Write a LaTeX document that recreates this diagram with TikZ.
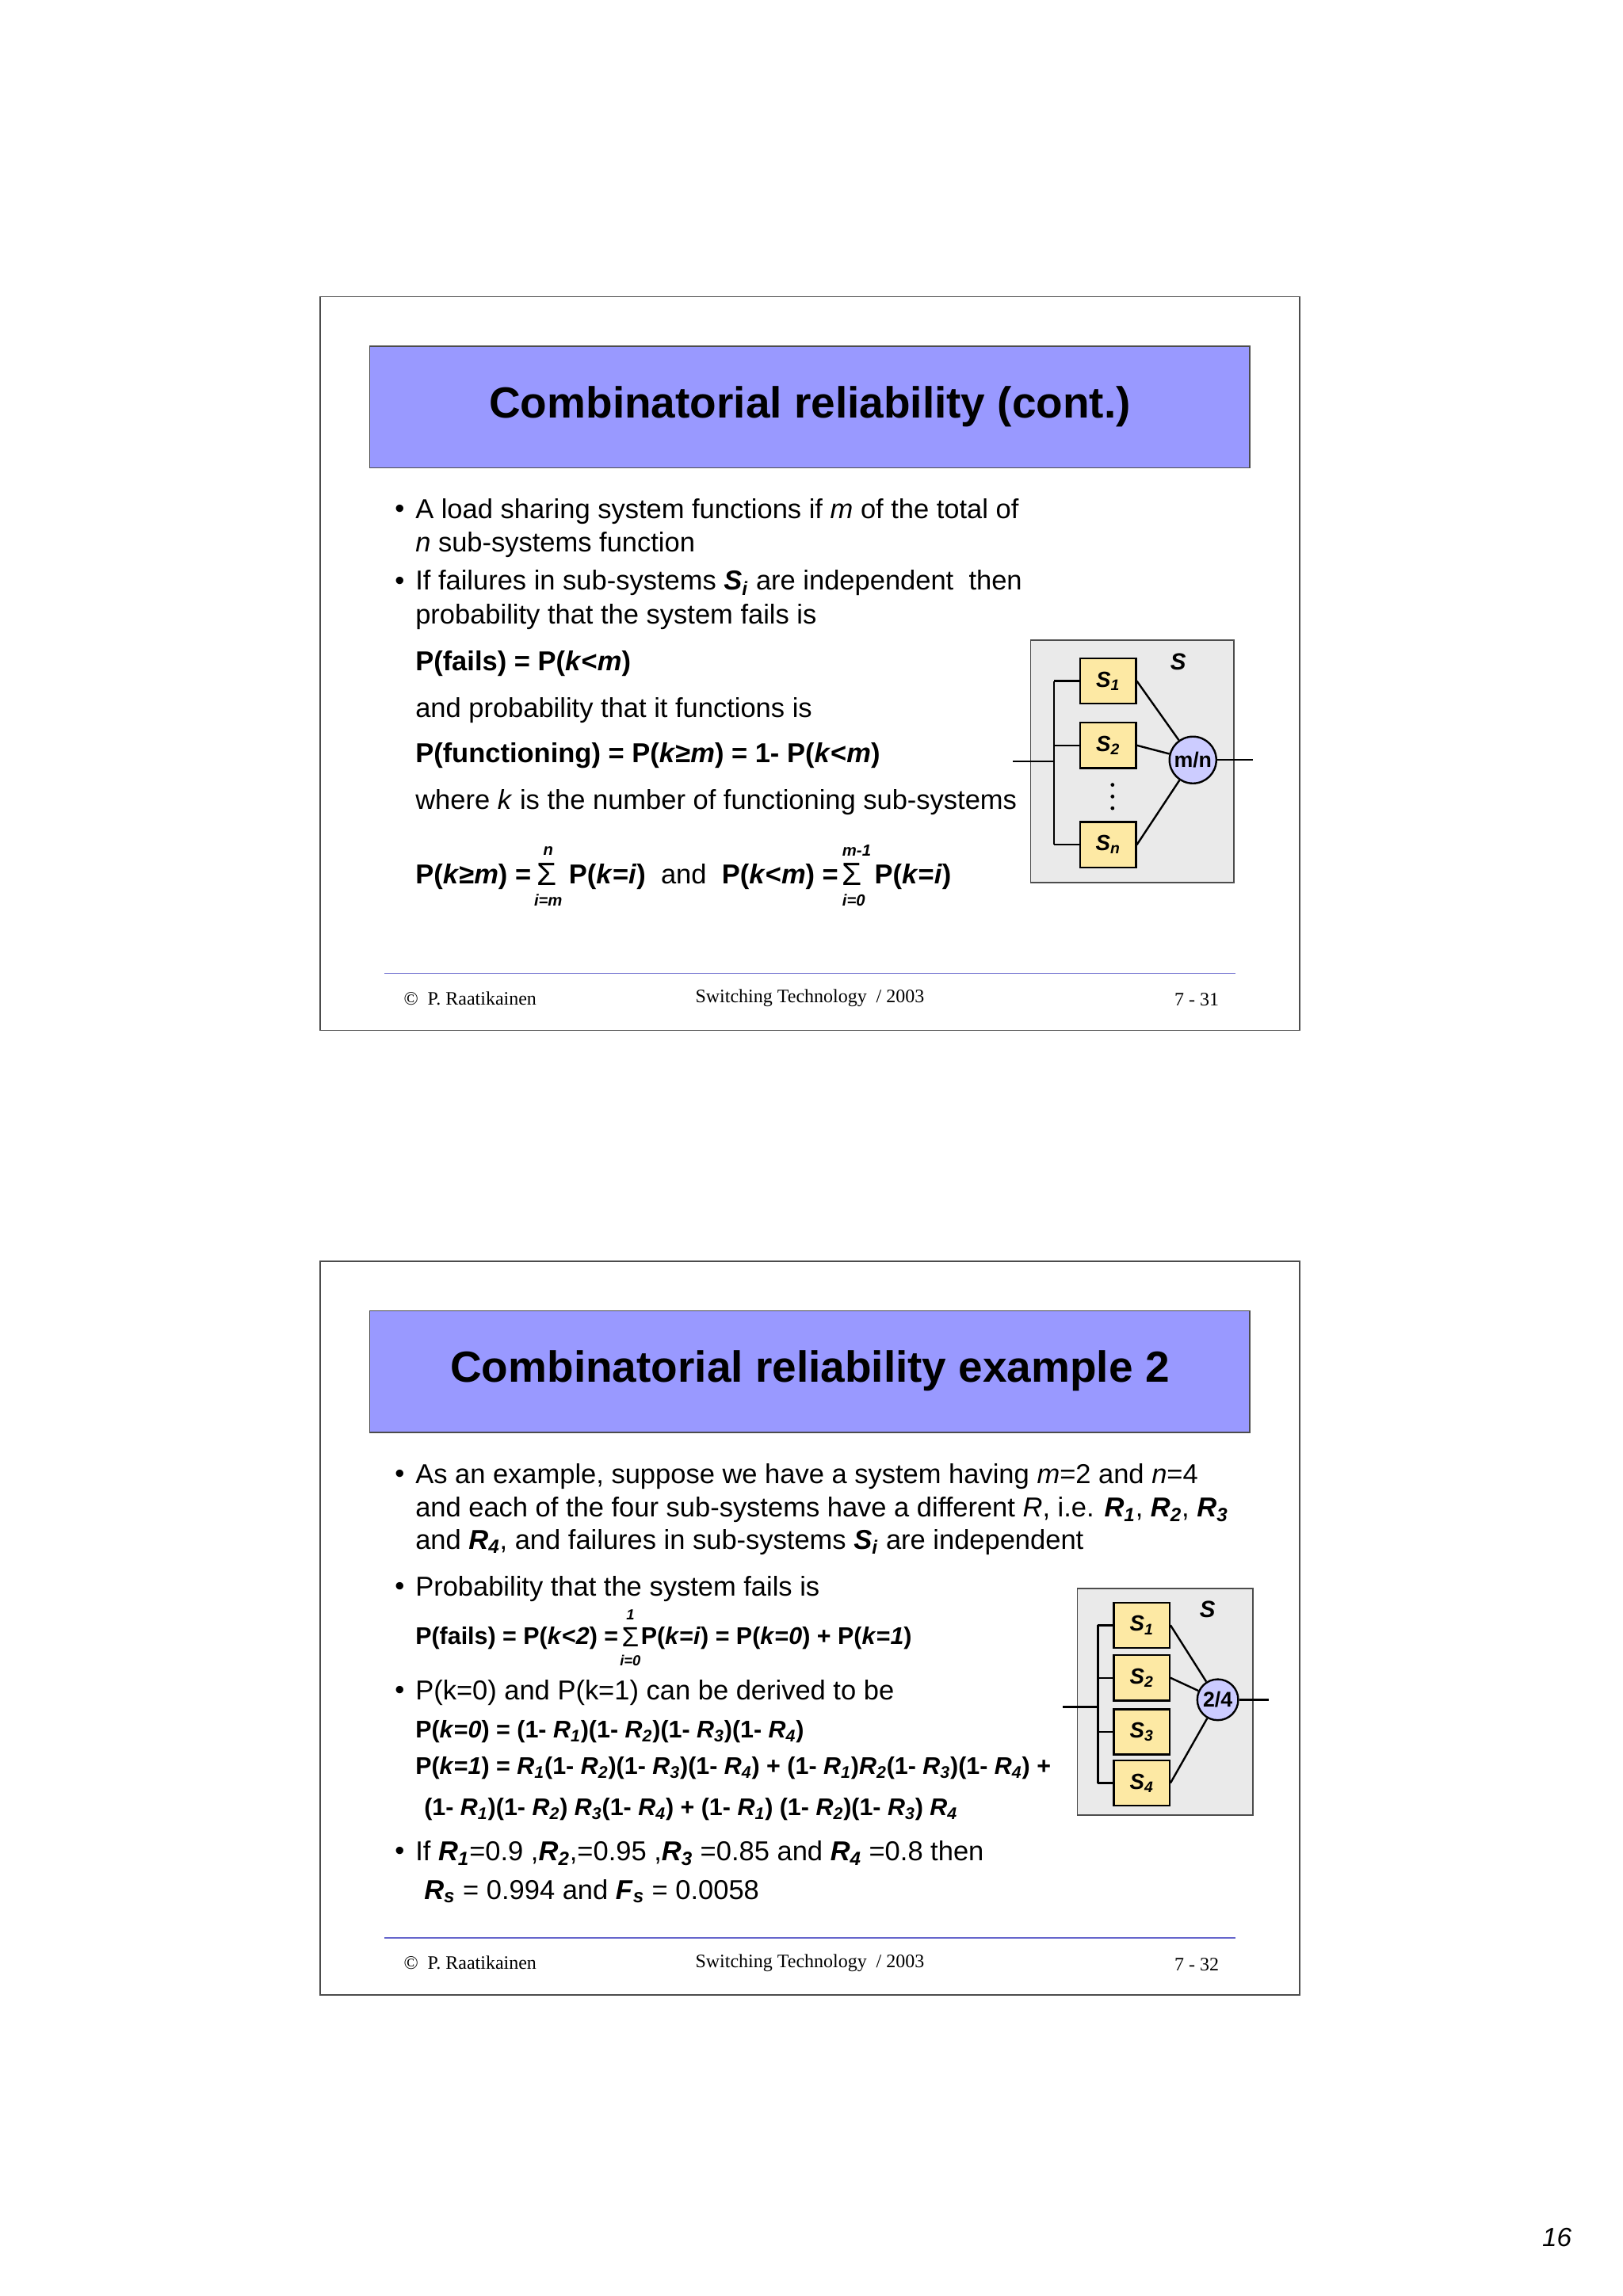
\documentclass[tikz,border=0pt]{standalone}
\usepackage{fontspec}
\setmainfont{Liberation Sans}
\newfontfamily\serifft{Liberation Serif}
\definecolor{titlebl}{HTML}{9999FF}
\definecolor{boxgray}{HTML}{EAEAEA}
\definecolor{subyel}{HTML}{FDE9A4}
\definecolor{circbl}{HTML}{CCCCFF}
\definecolor{footbl}{HTML}{6666CC}
\newcommand\bi[1]{\textbf{\textit{#1}}}
\newcommand\sbi[2]{\textbf{\textit{#1}\textsubscript{\textit{#2}}}}
\tikzset{
 body/.style={anchor=west,inner sep=0,font=\fontsize{18.7}{22}\selectfont,align=left},
 formula/.style={anchor=west,inner sep=0,font=\fontsize{16.5}{19}\selectfont},
 small/.style={inner sep=0,font=\fontsize{11}{12}\selectfont\bfseries\itshape},
 tiny/.style={inner sep=0,font=\fontsize{10}{10}\selectfont\bfseries\itshape},
 titlebox/.style={draw=black!70,fill=titlebl,line width=0.8pt},
 frm/.style={draw=black!70,line width=0.8pt},
 ttl/.style={font=\fontsize{29.8}{34}\selectfont\bfseries},
 foot/.style={font=\fontsize{13}{15}\selectfont\serifft,inner sep=0},
 sub/.style={draw=black,line width=1.3pt,fill=subyel,minimum width=38pt,minimum height=31pt,inner sep=0,font=\fontsize{15}{16}\selectfont\bfseries\itshape},
 circ/.style={draw=black,line width=1.3pt,fill=circbl,circle,inner sep=0,font=\fontsize{14.5}{15}\selectfont\bfseries},
 wire/.style={line width=1.3pt}
}
\begin{document}
\begin{tikzpicture}[x=1pt,y=-1pt]
\useasboundingbox[fill=white] (0,0) rectangle (1110,1571);
% ---------- slide 1
\draw[frm] (219,203) rectangle (889,705);
\draw[titlebox] (253,237) rectangle (855,320);
\node[ttl] (t1) at (554,278) {Combinatorial reliability (cont.)};
\node[body] (b1) at (270,350) {•};
\node[body] (l1) at (284,350) {A load sharing system functions if \textit{m} of the total of};
\node[body] (l2) at (284,373) {\textit{n} sub-systems function};
\node[body] (b2) at (270,399) {•};
\node[body] (l3) at (284,399) {If failures in sub-systems \sbi{S}{i} are independent \ then};
\node[body] (l4) at (284,422) {probability that the system fails is};
\node[body] (l5) at (284,454) {\textbf{P(fails) = P(\textit{k}<\textit{m})}};
\node[body] (l6) at (284,486) {and probability that it functions is};
\node[body] (l7) at (284,517) {\textbf{P(functioning) = P(\textit{k}≥\textit{m}) = 1- P(\textit{k}<\textit{m})}};
\node[body] (l8) at (284,549) {where \textit{k} is the number of functioning sub-systems};
\node[body] (f1) at (284,600) {\textbf{P(\textit{k}≥\textit{m}) =}};
\node[body,font=\fontsize{22}{22}\selectfont] (sg1) at (367,598) {Σ};
\node[small] at (375,582) {n};
\node[small] at (375,616) {i=m};
\node[body] (f2) at (389,600) {\textbf{P(\textit{k}=\textit{i})} \ and \ \textbf{P(\textit{k}<\textit{m}) =}};
\node[body,font=\fontsize{22}{22}\selectfont] (sg2) at (576,598) {Σ};
\node[small] at (586,582) {m-1};
\node[small] at (584,616) {i=0};
\node[body] (f3) at (598,600) {\textbf{P(\textit{k}=\textit{i})}};
\draw[footbl,line width=0.8pt] (263,666) -- (845,666);
\node[foot,anchor=west] at (276,683) {©\ \ P. Raatikainen};
\node[foot] at (554,683) {Switching Technology \ / 2003};
\node[foot,anchor=east] at (834,684) {7 - 31};
% diagram 1
\draw[draw=black!70,fill=boxgray,line width=0.8pt] (705,438) rectangle (844,604);
\node[small,font=\fontsize{16}{16}\selectfont\bfseries\itshape] at (806,453) {S};
\node[sub] (a1) at (758,466) {S\textsubscript{1}};
\node[sub] (a2) at (758,510) {S\textsubscript{2}};
\node[sub] (an) at (758,578) {S\textsubscript{\textit{n}}};
\node[circ,minimum size=32pt] (mn) at (816,520) {m/n};
\coordinate (bt) at (721,466); \coordinate (bb) at (721,578);
\coordinate (in1) at (693,521); \coordinate (bm) at (721,521);
\coordinate (out1) at (857,520);
\draw[wire] (bt) -- (bb);
\draw[wire] (bt) -- (a1.west); \draw[wire] (721,510) -- (a2.west); \draw[wire] (bb) -- (an.west);
\draw[wire] (in1) -- (bm);
\draw[wire] (a1.east) -- (mn); \draw[wire] (a2.east) -- (mn); \draw[wire] (an.east) -- (mn);
\draw[wire] (mn.east) -- (out1);
\foreach \yy in {537,545,553} \fill (761,\yy) circle (1.3);
% ---------- slide 2
\draw[frm] (219,863) rectangle (889,1365);
\draw[titlebox] (253,897) rectangle (855,980);
\node[ttl] (t2) at (554,938) {Combinatorial reliability example 2};
\node[body] at (270,1010) {•};
\node[body] (m1) at (284,1010) {As an example, suppose we have a system having \textit{m}=2 and \textit{n}=4};
\node[body] (m2) at (284,1033) {and each of the four sub-systems have a different \textit{R}, i.e. \sbi{R}{1}, \sbi{R}{2}, \sbi{R}{3}};
\node[body] (m3) at (284,1055) {and \sbi{R}{4}, and failures in sub-systems \sbi{S}{i} are independent};
\node[body] at (270,1087) {•};
\node[body] (m4) at (284,1087) {Probability that the system fails is};
\node[formula] (m5) at (284,1121) {\textbf{P(fails) = P(\textit{k}<\textit{2}) =}};
\node[formula,font=\fontsize{19}{19}\selectfont] (sg3) at ([xshift=2pt,yshift=1pt]m5.east) {Σ};
\node[tiny] at ([yshift=15pt]sg3.center) {1};
\node[tiny] at ([yshift=-16pt]sg3.center) {i=0};
\node[formula] (m6) at ([xshift=1pt,yshift=-1pt]sg3.east) {\textbf{P(\textit{k}=\textit{i}) = P(\textit{k}=\textit{0}) + P(\textit{k}=\textit{1})}};
\node[body] at (270,1158) {•};
\node[body] (m7) at (284,1158) {P(k=0) and P(k=1) can be derived to be};
\node[formula] (m8) at (284,1185) {\textbf{P(\textit{k}=\textit{0}) = (1- \textit{R}\textsubscript{\textit{1}})(1- \textit{R}\textsubscript{\textit{2}})(1- \textit{R}\textsubscript{\textit{3}})(1- \textit{R}\textsubscript{\textit{4}})}};
\node[formula] (m9) at (284,1210) {\textbf{P(\textit{k}=\textit{1}) = \textit{R}\textsubscript{\textit{1}}(1- \textit{R}\textsubscript{\textit{2}})(1- \textit{R}\textsubscript{\textit{3}})(1- \textit{R}\textsubscript{\textit{4}}) + (1- \textit{R}\textsubscript{\textit{1}})\textit{R}\textsubscript{\textit{2}}(1- \textit{R}\textsubscript{\textit{3}})(1- \textit{R}\textsubscript{\textit{4}}) +}};
\node[formula] (m10) at (290,1238) {\textbf{(1- \textit{R}\textsubscript{\textit{1}})(1- \textit{R}\textsubscript{\textit{2}}) \textit{R}\textsubscript{\textit{3}}(1- \textit{R}\textsubscript{\textit{4}}) + (1- \textit{R}\textsubscript{\textit{1}}) (1- \textit{R}\textsubscript{\textit{2}})(1- \textit{R}\textsubscript{\textit{3}}) \textit{R}\textsubscript{\textit{4}}}};
\node[body] at (270,1268) {•};
\node[body] (m11) at (284,1268) {If \sbi{R}{1}=0.9 ,\sbi{R}{2},=0.95 ,\sbi{R}{3} =0.85 and \sbi{R}{4} =0.8 then};
\node[body] (m12) at (290,1294) {\sbi{R}{s} = 0.994 and \sbi{F}{s} = 0.0058};
\draw[footbl,line width=0.8pt] (263,1326) -- (845,1326);
\node[foot,anchor=west] at (276,1343) {©\ \ P. Raatikainen};
\node[foot] at (554,1343) {Switching Technology \ / 2003};
\node[foot,anchor=east] at (834,1344) {7 - 32};
% diagram 2
\draw[draw=black!70,fill=boxgray,line width=0.8pt] (737,1087) rectangle (857,1242);
\node[small,font=\fontsize{16}{16}\selectfont\bfseries\itshape] at (826,1101) {S};
\begin{scope}[every node/.append style={minimum width=33pt,minimum height=30pt}]
\node[sub] (c1) at (781,1112) {S\textsubscript{1}};
\node[sub] (c2) at (781,1148) {S\textsubscript{2}};
\node[sub] (c3) at (781,1185) {S\textsubscript{3}};
\node[sub] (c4) at (781,1220) {S\textsubscript{4}};
\end{scope}
\node[circ,minimum size=28pt] (tf) at (833,1163) {2/4};
\coordinate (dt) at (751,1112); \coordinate (db) at (751,1220);
\coordinate (in2) at (727,1168); \coordinate (dm) at (751,1168);
\coordinate (out2) at (868,1163);
\draw[wire] (dt) -- (db);
\draw[wire] (dt) -- (c1.west); \draw[wire] (751,1148) -- (c2.west);
\draw[wire] (751,1185) -- (c3.west); \draw[wire] (db) -- (c4.west);
\draw[wire] (in2) -- (dm);
\draw[wire] (c1.east) -- (tf); \draw[wire] (c2.east) -- (tf); \draw[wire] (c4.east) -- (tf);
\draw[wire] (tf.east) -- (out2);
% page number
\node[font=\fontsize{18}{20}\selectfont\itshape] (pg) at (1065,1531) {16};
\end{tikzpicture}
\end{document}
